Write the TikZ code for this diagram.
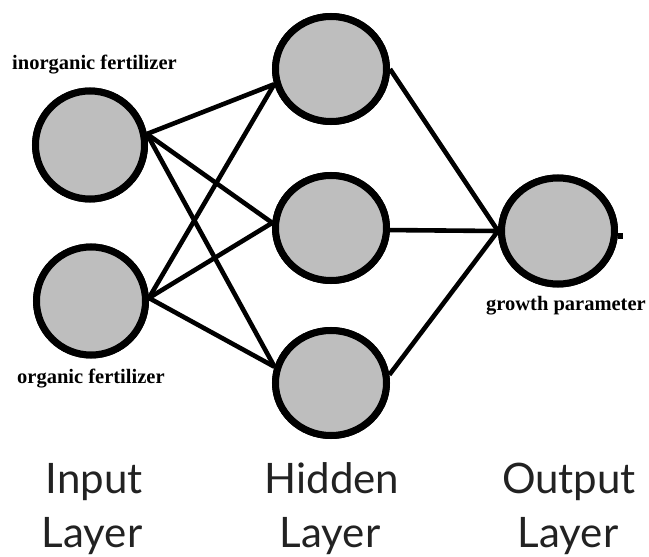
\documentclass[tikz,border=0pt]{standalone}
\usepackage{fontspec}
\setmainfont{Liberation Serif}
\newfontfamily\layerfont{Lato}
\usetikzlibrary{shapes.geometric}
\definecolor{nodegray}{HTML}{BEBEBE}
\definecolor{layertext}{HTML}{222222}
\tikzset{
  neuron/.style={ellipse, draw=black, fill=nodegray, line width=7pt, inner sep=0pt},
  inneuron/.style={neuron, minimum width=109pt, minimum height=108pt},
  hidneuron/.style={neuron, minimum width=111pt, minimum height=105pt},
  outneuron/.style={neuron, minimum width=113pt, minimum height=106pt},
  conn/.style={draw=black, line width=4.6pt},
  varlabel/.style={font=\fontsize{20.5}{24}\selectfont\bfseries, inner sep=0pt, anchor=base west},
  layerlabel/.style={font=\layerfont\fontsize{42}{50}\selectfont, inner sep=0pt, anchor=base, text=layertext}
}
\begin{document}
\begin{tikzpicture}[x=1pt,y=-1pt]
\useasboundingbox (0,0) rectangle (649,557);
% neurons (placed first so connectors can refer to them)
\node[inneuron] (in1) at (90,145) {};
\node[inneuron] (in2) at (91,301) {};
\node[hidneuron] (h1) at (331,69) {};
\node[hidneuron] (h2) at (331,228) {};
\node[hidneuron] (h3) at (331,383) {};
\node[outneuron] (out) at (558,231) {};
% connectors
\draw[conn] (in1.11) -- (h1.195);
\draw[conn] (in1.11) -- (h2.175);
\draw[conn] (in1.11) -- (h3.164);
\draw[conn] (in2.3) -- (h1.195);
\draw[conn] (in2.3) -- (h2.175);
\draw[conn] (in2.3) -- (h3.164);
\draw[conn] (h1.east) -- (out.180);
\draw[conn] (h2.-2) -- (out.180);
\draw[conn] (h3.8) -- (out.180);
\draw[line width=6pt] (out.-5) -- ++(5,0);
% neurons again on top of the connector ends
\node[inneuron] at (in1) {};
\node[inneuron] at (in2) {};
\node[hidneuron] at (h1) {};
\node[hidneuron] at (h2) {};
\node[hidneuron] at (h3) {};
\node[outneuron] at (out) {};
% variable labels
\node[varlabel] (lin1) at (12,69) {inorganic fertilizer};
\node[varlabel] (lin2) at (17,383) {organic fertilizer};
\node[varlabel] (lout) at (486,310) {growth parameter};
% layer labels
\node[layerlabel] (li1) at (94,493) {Input};
\node[layerlabel] (li2) at (92,547) {Layer};
\node[layerlabel] (lh1) at (332,493) {Hidden};
\node[layerlabel] (lh2) at (330,547) {Layer};
\node[layerlabel] (lo1) at (569,493) {Output};
\node[layerlabel] (lo2) at (568,547) {Layer};
\end{tikzpicture}
\end{document}
